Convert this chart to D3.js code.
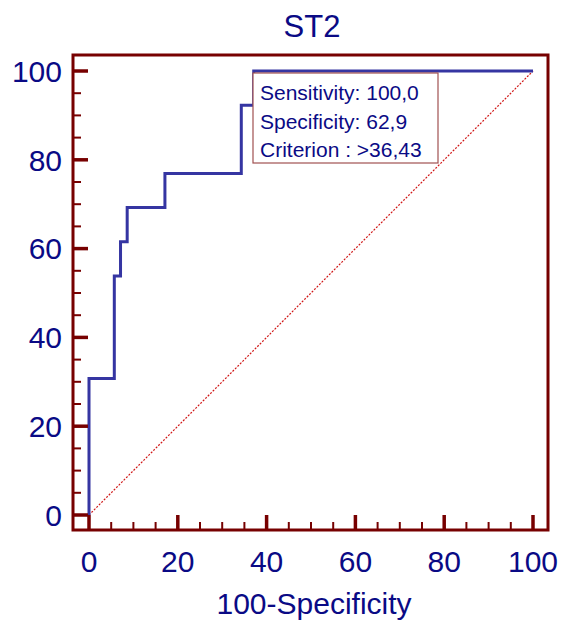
<!DOCTYPE html>
<html>
<head>
<meta charset="utf-8">
<script src="https://cdn.jsdelivr.net/npm/d3@7"></script>
<style>
  html, body { margin: 0; padding: 0; background: #fff; }
  svg { display: block; }
</style>
</head>
<body>
<div id="chart"></div>
<script>
// ROC curve points (100-Specificity, Sensitivity)
const fprValues = [0, 0, 5.7, 5.7, 7.1, 7.1, 8.6, 8.6, 17.1, 17.1, 34.3, 34.3, 37.1, 37.1, 100];
const tprValues = [0, 30.77, 30.77, 53.85, 53.85, 61.54, 61.54, 69.23, 69.23, 76.92, 76.92, 92.31, 92.31, 100, 100];
const majorTicks = [0, 20, 40, 60, 80, 100];
const minorTicks = [5, 10, 15, 25, 30, 35, 45, 50, 55, 65, 70, 75, 85, 90, 95];
const infoLines = ["Sensitivity: 100,0", "Specificity: 62,9", "Criterion : >36,43"];
const chartTitle = "ST2";
const xTitle = "100-Specificity";

const width = 562, height = 621;
const frame = { left: 73, top: 55, right: 548, bottom: 530 };
const axisColor = "#770000";
const textColor = "#0a0a85";
const font = "'Liberation Sans', Arial, sans-serif";

const svg = d3.select("#chart").append("svg")
  .attr("width", width)
  .attr("height", height);

const x = d3.scaleLinear().domain([0, 100]).range([89, 533]);
const y = d3.scaleLinear().domain([0, 100]).range([515, 71]);

// title
svg.append("text")
  .attr("x", 312)
  .attr("y", 37)
  .attr("text-anchor", "middle")
  .attr("font-family", font)
  .attr("font-size", 31)
  .attr("fill", textColor)
  .text(chartTitle);

// diagonal reference line (red dotted)
svg.append("line")
  .attr("x1", x(0)).attr("y1", y(0))
  .attr("x2", x(100)).attr("y2", y(100))
  .attr("stroke", "#d01818")
  .attr("stroke-width", 1.2)
  .attr("stroke-dasharray", "2,1.5");

// ROC curve
const pts = fprValues.map((v, i) => [v, tprValues[i]]);
svg.append("path")
  .datum(pts)
  .attr("fill", "none")
  .attr("stroke", "#3535a2")
  .attr("stroke-width", 3)
  .attr("stroke-linejoin", "miter")
  .attr("d", d3.line().x(d => x(d[0])).y(d => y(d[1])));

// info box
const box = svg.append("g").attr("transform", "translate(253,73)");
box.append("rect")
  .attr("width", 185)
  .attr("height", 90)
  .attr("fill", "#fff")
  .attr("stroke", "#a05050")
  .attr("stroke-width", 1.2);
box.selectAll("text.info")
  .data(infoLines)
  .enter()
  .append("text")
  .attr("class", "info")
  .attr("x", 7)
  .attr("y", (d, i) => 27 + i * 28.5)
  .attr("font-family", font)
  .attr("font-size", 21)
  .attr("fill", textColor)
  .text(d => d);

// frame
svg.append("rect")
  .attr("x", frame.left)
  .attr("y", frame.top)
  .attr("width", frame.right - frame.left)
  .attr("height", frame.bottom - frame.top)
  .attr("fill", "none")
  .attr("stroke", axisColor)
  .attr("stroke-width", 3);

// y ticks (pointing inward from left edge)
svg.selectAll("line.ymaj")
  .data(majorTicks)
  .enter().append("line")
  .attr("x1", frame.left).attr("x2", frame.left + 15)
  .attr("y1", d => y(d)).attr("y2", d => y(d))
  .attr("stroke", axisColor).attr("stroke-width", 3.5);
svg.selectAll("line.ymin")
  .data(minorTicks)
  .enter().append("line")
  .attr("x1", frame.left).attr("x2", frame.left + 8)
  .attr("y1", d => y(d)).attr("y2", d => y(d))
  .attr("stroke", axisColor).attr("stroke-width", 2);

// x ticks (pointing up from bottom edge)
svg.selectAll("line.xmaj")
  .data(majorTicks)
  .enter().append("line")
  .attr("y1", frame.bottom).attr("y2", frame.bottom - 15)
  .attr("x1", d => x(d)).attr("x2", d => x(d))
  .attr("stroke", axisColor).attr("stroke-width", 3.5);
svg.selectAll("line.xmin")
  .data(minorTicks)
  .enter().append("line")
  .attr("y1", frame.bottom).attr("y2", frame.bottom - 8)
  .attr("x1", d => x(d)).attr("x2", d => x(d))
  .attr("stroke", axisColor).attr("stroke-width", 2);

// tick labels
svg.selectAll("text.ylab")
  .data(majorTicks)
  .enter().append("text")
  .attr("x", 62)
  .attr("y", d => y(d))
  .attr("dy", "0.36em")
  .attr("text-anchor", "end")
  .attr("font-family", font)
  .attr("font-size", 30)
  .attr("fill", textColor)
  .text(d => d);

svg.selectAll("text.xlab")
  .data(majorTicks)
  .enter().append("text")
  .attr("x", d => x(d))
  .attr("y", 572)
  .attr("text-anchor", "middle")
  .attr("font-family", font)
  .attr("font-size", 30)
  .attr("fill", textColor)
  .text(d => d);

// x axis title
svg.append("text")
  .attr("x", 314)
  .attr("y", 614)
  .attr("text-anchor", "middle")
  .attr("font-family", font)
  .attr("font-size", 30)
  .attr("fill", textColor)
  .text(xTitle);
</script>
</body>
</html>
